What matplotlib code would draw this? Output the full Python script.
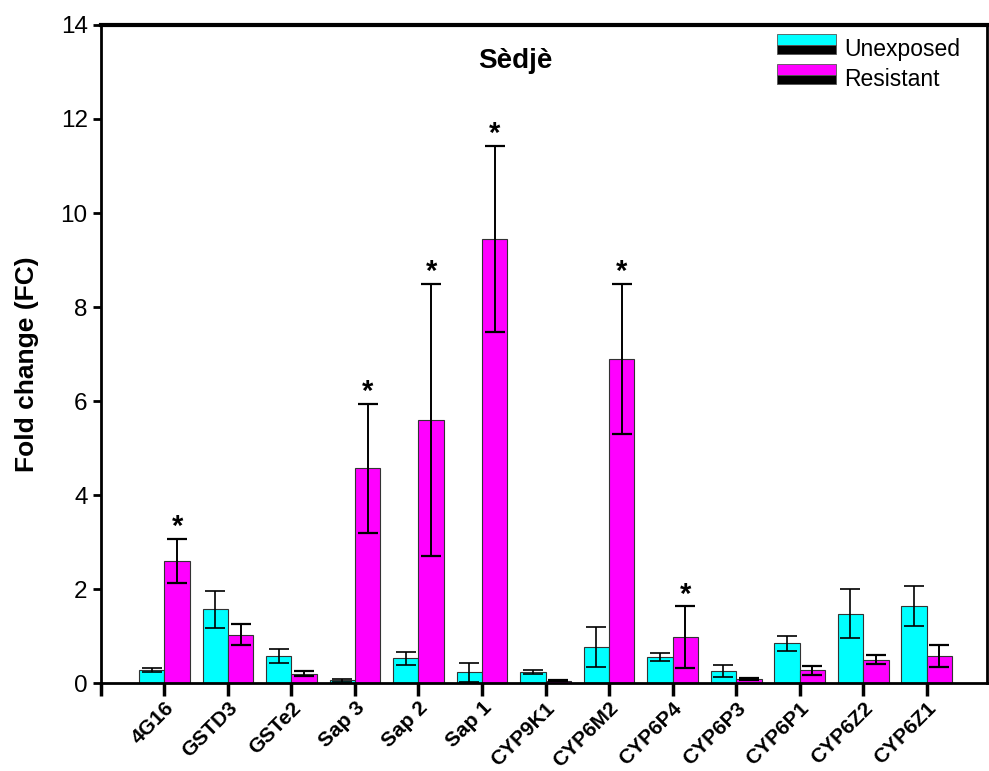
#fold change bar chart, unexposed vs resistant
import numpy as np
import matplotlib
matplotlib.use('Agg')
import matplotlib.pyplot as plt
from matplotlib.patches import Rectangle

plt.rcParams['font.family'] = ['Liberation Sans', 'DejaVu Sans']

genes = ['4G16', 'GSTD3', 'GSTe2', 'Sap 3', 'Sap 2', 'Sap 1', 'CYP9K1',
         'CYP6M2', 'CYP6P4', 'CYP6P3', 'CYP6P1', 'CYP6Z2', 'CYP6Z1']
unexposed = [0.28, 1.57, 0.57, 0.06, 0.53, 0.23, 0.23, 0.77, 0.55, 0.26, 0.85, 1.48, 1.64]
unexposed_err = [0.04, 0.39, 0.15, 0.03, 0.14, 0.2, 0.04, 0.42, 0.09, 0.12, 0.16, 0.52, 0.42]
resistant = [2.6, 1.03, 0.2, 4.57, 5.6, 9.45, 0.05, 6.89, 0.98, 0.08, 0.27, 0.5, 0.57]
resistant_err = [0.47, 0.23, 0.05, 1.37, 2.89, 1.98, 0.01, 1.6, 0.65, 0.02, 0.09, 0.1, 0.23]
significant = [True, False, False, True, True, True, False, True, True, False, False, False, False]


#legend box: colour on top, black strip below (as in the original export)
class TwoToneHandler:
    def __init__(self, color):
        self.color = color

    def legend_artist(self, legend, orig_handle, fontsize, handlebox):
        x0, y0 = handlebox.xdescent, handlebox.ydescent
        w, h = handlebox.width, handlebox.height
        top = Rectangle((x0, y0 + h * 0.42), w, h * 0.58, facecolor=self.color,
                        edgecolor='#555555', lw=0.6, transform=handlebox.get_transform())
        bot = Rectangle((x0, y0), w, h * 0.42, facecolor='black',
                        edgecolor='#555555', lw=0.6, transform=handlebox.get_transform())
        handlebox.add_artist(top)
        handlebox.add_artist(bot)
        return top


fig = plt.figure(figsize=(9.89, 7.71), dpi=100)
ax = fig.add_axes([0.102, 0.114, 0.896, 0.8536])

x = np.arange(1, len(genes) + 1)
w = 0.4
b1 = ax.bar(x - w / 2, unexposed, w, color='#00FFFF', edgecolor='#333333', linewidth=0.8,
            label='Unexposed', zorder=2)
b2 = ax.bar(x + w / 2, resistant, w, color='#FF00FF', edgecolor='#333333', linewidth=0.8,
            label='Resistant', zorder=2)
ax.errorbar(x - w / 2, unexposed, yerr=unexposed_err, fmt='none', ecolor='black',
            elinewidth=1.2, capsize=7, capthick=1.2, zorder=3)
ax.errorbar(x + w / 2, resistant, yerr=resistant_err, fmt='none', ecolor='black',
            elinewidth=1.4, capsize=7, capthick=1.6, zorder=3)

#stars above significant bars
for i in range(len(genes)):
    if significant[i]:
        ax.text(x[i] + w / 2, resistant[i] + resistant_err[i] - 0.05, '*',
                ha='center', va='bottom', fontsize=21, fontweight='bold')

ax.set_xlim(0, 13.95)
ax.set_ylim(0, 14)
ax.set_yticks(range(0, 15, 2))
ax.set_xticks(range(0, 14))
ax.set_xticklabels([''] + genes, rotation=45, ha='right', rotation_mode='anchor',
                   fontsize=15, fontweight='bold')
ax.tick_params(axis='y', labelsize=17.5, width=2, length=6, direction='out')
ax.tick_params(axis='x', width=2.5, length=9, direction='out', pad=2)
ax.set_ylabel('Fold change (FC)', fontsize=19, fontweight='bold')
ax.yaxis.set_label_coords(-0.07, 0.485)

for s in ['left', 'right', 'bottom']:
    ax.spines[s].set_linewidth(2)
ax.spines['top'].set_linewidth(3)

ax.text(0.468, 0.945, 'Sèdjè', transform=ax.transAxes, ha='center', va='center',
        fontsize=20, fontweight='bold')

ax.legend(handles=[b1, b2], labels=['Unexposed', 'Resistant'], loc='upper right',
          bbox_to_anchor=(0.993, 1.012), frameon=False, fontsize=16.5,
          handlelength=2.6, handleheight=0.95, handletextpad=0.35, labelspacing=0.3,
          handler_map={b1: TwoToneHandler('#00FFFF'), b2: TwoToneHandler('#FF00FF')})

plt.savefig('out.png', dpi=100)
